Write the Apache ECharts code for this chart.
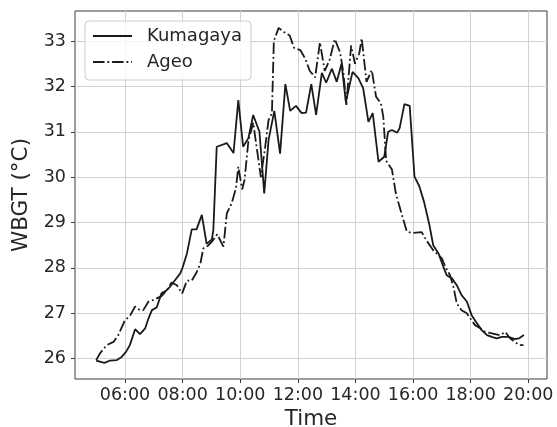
<!DOCTYPE html>
<html><head><meta charset="utf-8">
<script src="https://cdn.jsdelivr.net/npm/echarts@6/dist/echarts.min.js"></script>
<style>html,body{margin:0;padding:0;background:#fff}#c{width:557px;height:427px}</style>
</head><body><div id="c"></div>
<script>
const kumagayaTimes = ['05:00','05:17','05:29','05:43','05:53','06:02','06:10','06:21','06:31','06:42','06:49','06:56','07:06','07:16','07:27','07:34','07:44','07:55','08:00','08:09','08:19','08:29','08:40','08:50','09:01','09:04','09:11','09:32','09:46','09:56','10:06','10:17','10:27','10:40','10:50','10:59','11:11','11:23','11:34','11:44','11:56','12:08','12:17','12:28','12:38','12:50','12:59','13:11','13:21','13:31','13:40','13:54','14:06','14:16','14:27','14:36','14:48','15:00','15:08','15:16','15:27','15:32','15:42','15:53','16:03','16:13','16:23','16:34','16:42','16:53','17:03','17:10','17:21','17:31','17:41','17:52','18:02','18:13','18:23','18:34','18:44','18:54','19:05','19:19','19:32','19:41','19:51'];
const kumagayaValues = [25.96,25.91,25.96,25.97,26.04,26.15,26.30,26.65,26.54,26.67,26.89,27.07,27.13,27.44,27.51,27.59,27.73,27.88,28.01,28.32,28.85,28.85,29.17,28.53,28.63,28.84,30.67,30.75,30.53,31.70,30.67,30.86,31.37,31.00,29.64,30.82,31.46,30.52,32.05,31.46,31.57,31.41,31.42,32.05,31.37,32.30,32.08,32.39,32.10,32.50,31.66,32.32,32.18,31.96,31.22,31.41,30.34,30.45,31.00,31.04,30.98,31.08,31.61,31.57,30.01,29.80,29.45,28.95,28.50,28.32,28.03,27.84,27.77,27.62,27.40,27.26,26.96,26.78,26.63,26.52,26.48,26.45,26.48,26.48,26.43,26.45,26.52];
const ageoTimes = ['05:00','05:08','05:22','05:36','05:46','06:00','06:10','06:21','06:31','06:38','06:49','06:58','07:06','07:16','07:27','07:37','07:48','07:59','08:09','08:19','08:29','08:37','08:43','08:53','09:01','09:12','09:25','09:32','09:42','09:51','09:56','10:04','10:09','10:17','10:27','10:37','10:43','10:52','10:59','11:06','11:10','11:20','11:31','11:43','11:52','12:05','12:15','12:25','12:36','12:46','12:56','13:06','13:17','13:28','13:35','13:41','13:51','13:59','14:08','14:13','14:23','14:34','14:43','14:53','14:58','15:04','15:16','15:24','15:30','15:36','15:47','15:59','16:18','16:27','16:42','17:00','17:07','17:17','17:24','17:31','17:41','17:52','17:59','18:09','18:20','18:30','18:44','19:01','19:12','19:22','19:32','19:41','19:50'];
const ageoValues = [25.97,26.12,26.30,26.37,26.52,26.85,26.94,27.15,27.07,27.07,27.26,27.29,27.33,27.38,27.51,27.68,27.62,27.44,27.72,27.72,27.90,28.10,28.43,28.49,28.58,28.74,28.47,29.20,29.42,29.75,30.23,29.73,29.94,30.80,31.20,30.45,30.00,30.67,31.26,31.41,33.00,33.29,33.20,33.12,32.85,32.80,32.62,32.34,32.20,32.97,32.34,32.58,33.04,32.75,32.29,31.59,32.90,32.50,32.73,33.06,32.10,32.36,31.77,31.63,31.33,30.36,30.17,29.65,29.42,29.20,28.80,28.77,28.79,28.62,28.39,28.21,28.03,27.84,27.59,27.22,27.07,27.00,26.89,26.74,26.67,26.59,26.56,26.52,26.59,26.45,26.37,26.30,26.30];
const xTickLabels = ['06:00','08:00','10:00','12:00','14:00','16:00','18:00','20:00'];
const yTickValues = [26,27,28,29,30,31,32,33];

function toMin(s){ const p = s.split(':').map(Number); return p[0]*60 + p[1]; }
function fmt(v){ const h = Math.floor(v/60), m = Math.round(v%60); return String(h).padStart(2,'0')+':'+String(m).padStart(2,'0'); }

const xTickValues = xTickLabels.map(toMin);
const font = 'DejaVu Sans';
const txt = '#262626';
const gridCol = '#d2d2d2';
const spine = '#3a3a3a';

const chart = echarts.init(document.getElementById('c'), null, {renderer:'canvas'});
chart.setOption({
  animation: false,
  backgroundColor: '#fff',
  grid: { left: 75, right: 10, top: 11, bottom: 48, show: true, borderColor: spine, borderWidth: 1, outerBoundsMode: 'none' },
  legend: {
    orient: 'vertical', left: 85, top: 21,
    padding: [6, 9, 9, 7],
    itemGap: 8, itemWidth: 39, itemHeight: 14,
    borderColor: '#cccccc', borderWidth: 1, borderRadius: 4,
    backgroundColor: 'rgba(255,255,255,0.8)',
    itemStyle: { opacity: 0 },
    textStyle: { fontFamily: font, fontSize: 18, color: txt, padding: [0,0,0,10] },
    data: ['Kumagaya','Ageo']
  },
  xAxis: {
    type: 'value', min: 255.8, max: 1239,
    name: 'Time', nameLocation: 'middle', nameGap: 24,
    nameTextStyle: { fontFamily: font, fontSize: 21.5, color: txt },
    axisLine: { show: false },
    axisTick: { show: true, length: 4, customValues: xTickValues, lineStyle: { color: spine } },
    axisLabel: { customValues: xTickValues, formatter: fmt, fontFamily: font, fontSize: 17.5, color: txt, margin: 7 },
    splitLine: { show: true, lineStyle: { color: gridCol, width: 1 } }
  },
  yAxis: {
    type: 'value', min: 25.553, max: 33.661,
    name: 'WBGT (°C)', nameLocation: 'middle', nameGap: 30,
    nameTextStyle: { fontFamily: font, fontSize: 21.5, color: txt },
    axisLine: { show: false },
    axisTick: { show: true, length: 4, customValues: yTickValues, lineStyle: { color: spine } },
    axisLabel: { customValues: yTickValues, fontFamily: font, fontSize: 17.5, color: txt, margin: 9 },
    splitLine: { show: true, lineStyle: { color: gridCol, width: 1 } }
  },
  series: [
    { name: 'Kumagaya', type: 'line', symbol: 'none', showSymbol: false,
      data: kumagayaTimes.map((t,i)=>[toMin(t), kumagayaValues[i]]),
      lineStyle: { color: '#1a1a1a', width: 1.8 }, itemStyle: { color: '#1a1a1a' } },
    { name: 'Ageo', type: 'line', symbol: 'none', showSymbol: false,
      data: ageoTimes.map((t,i)=>[toMin(t), ageoValues[i]]),
      lineStyle: { color: '#1a1a1a', width: 1.8, type: [11.5, 2.9, 1.8, 2.9] }, itemStyle: { color: '#1a1a1a' } }
  ]
});
</script>
</body></html>
